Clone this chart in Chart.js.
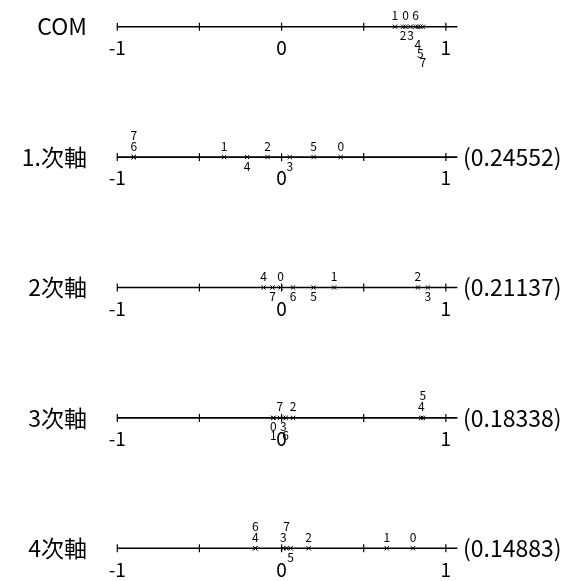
<!DOCTYPE html>
<html>
<head>
<meta charset="utf-8">
<script src="https://cdn.jsdelivr.net/npm/chart.js@4"></script>
<style>
  body { margin: 0; background: #fff; }
</style>
</head>
<body>
<canvas id="axisChart" width="579" height="581"></canvas>
<script>
// Data
const rowNames = ['COM', '1.次軸', '2次軸', '3次軸', '4次軸'];
const eigenLabels = ['', '(0.24552)', '(0.21137)', '(0.18338)', '(0.14883)'];
const pointIds = ['0', '1', '2', '3', '4', '5', '6', '7'];
const comScores = [0.755, 0.69, 0.74, 0.785, 0.83, 0.845, 0.815, 0.86];
const axis1Scores = [0.36, -0.35, -0.085, 0.05, -0.21, 0.195, -0.9, -0.9];
const axis2Scores = [-0.006, 0.32, 0.83, 0.89, -0.11, 0.195, 0.07, -0.055];
const axis3Scores = [-0.05, -0.05, 0.07, 0.01, 0.85, 0.86, 0.025, -0.01];
const axis4Scores = [0.80, 0.64, 0.165, 0.01, -0.16, 0.055, -0.16, 0.03];
const tickValues = [-1, -0.5, 0, 0.5, 1];
const tickLabelValues = [-1, 0, 1];
const tickLabels = ['-1', '0', '1'];

const allScores = [comScores, axis1Scores, axis2Scores, axis3Scores, axis4Scores];

// label placement: +n = n-th slot above the line, -n = n-th slot below
const labelSlots = [
    [1, 1, -1, -1, -2, -3, 1, -4],
    [1, 1, 1, -1, -1, 1, 1, 2],
    [1, 1, 1, -1, 1, -1, -1, -1],
    [-1, -2, 1, -1, 1, 2, -2, 1],
    [1, 1, 1, 1, 1, -1, 2, 2]
];

const font = "'Noto Sans CJK JP', 'DejaVu Sans', sans-serif";

const datasets = [];
rowNames.forEach(function(name, r) {
    datasets.push({
        label: name + ' line',
        data: [{ x: -1, y: r }, { x: 1.07, y: r }],
        showLine: true,
        borderColor: '#000',
        borderWidth: 1.6,
        pointRadius: 0,
        clip: false
    });
    datasets.push({
        label: name + ' ticks',
        data: tickValues.map(v => ({ x: v, y: r })),
        showLine: false,
        pointStyle: 'line',
        rotation: 90,
        pointRadius: 4,
        borderColor: '#000',
        borderWidth: 1.2,
        clip: false
    });
    datasets.push({
        label: name,
        data: allScores[r].map(v => ({ x: v, y: r })),
        showLine: false,
        pointStyle: 'crossRot',
        pointRadius: 3,
        borderColor: '#000',
        borderWidth: 1,
        clip: false
    });
});

const textPlugin = {
    id: 'textPlugin',
    afterDatasetsDraw(chart) {
        const ctx = chart.ctx;
        const xs = chart.scales.x;
        const ys = chart.scales.y;
        ctx.save();
        ctx.fillStyle = '#000';
        ctx.textAlign = 'center';
        ctx.textBaseline = 'middle';
        rowNames.forEach(function(name, r) {
            const yRow = ys.getPixelForValue(r);
            ctx.font = '19px ' + font;
            tickLabelValues.forEach(function(v, i) {
                ctx.fillText(tickLabels[i], xs.getPixelForValue(v), yRow + 21);
            });
            ctx.font = '12px ' + font;
            allScores[r].forEach(function(v, i) {
                const slot = labelSlots[r][i];
                const dy = slot > 0 ? -(slot * 11) : (-slot * 9);
                ctx.fillText(pointIds[i], xs.getPixelForValue(v), yRow + dy);
            });
        });
        ctx.restore();
    }
};

function rowTicks(scale) {
    scale.ticks = rowNames.map((_, i) => ({ value: i }));
}

function fitRows(width) {
    return function(scale) {
        scale.width = width;
        scale.paddingTop = 0;
        scale.paddingBottom = 0;
    };
}

const chartCtx = document.getElementById('axisChart').getContext('2d');
const axisChart = new Chart(chartCtx, {
    type: 'scatter',
    data: { datasets: datasets },
    options: {
        responsive: false,
        animation: false,
        layout: { padding: 0 },
        plugins: {
            legend: { display: false },
            tooltip: { enabled: false }
        },
        elements: { point: { hoverRadius: 3 } },
        scales: {
            x: {
                type: 'linear',
                min: -1.02,
                max: 1.08,
                display: false
            },
            y: {
                type: 'linear',
                position: 'left',
                reverse: true,
                min: -0.165,
                max: 4.211,
                grid: { display: false, drawTicks: false },
                border: { display: false },
                afterBuildTicks: rowTicks,
                afterFit: fitRows(114),
                ticks: {
                    padding: 27,
                    color: '#000',
                    font: { size: 23, family: font },
                    callback: v => rowNames[v]
                }
            },
            y2: {
                type: 'linear',
                position: 'right',
                reverse: true,
                min: -0.165,
                max: 4.211,
                grid: { display: false, drawTicks: false },
                border: { display: false },
                afterBuildTicks: rowTicks,
                afterFit: fitRows(120),
                ticks: {
                    padding: 4,
                    color: '#000',
                    font: { size: 23, family: font },
                    callback: v => eigenLabels[v]
                }
            }
        }
    },
    plugins: [textPlugin]
});
</script>
</body>
</html>
